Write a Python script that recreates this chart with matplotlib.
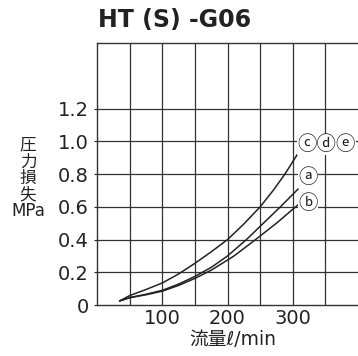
import matplotlib
matplotlib.use("Agg")
import matplotlib.pyplot as plt

plt.rcParams['font.family'] = ['DejaVu Sans', 'Noto Sans CJK JP']

# flow (l/min) vs pressure loss (MPa)
flow_cde = [35, 50, 75, 100, 125, 150, 175, 200, 225, 250, 270, 288, 307]
loss_cde = [0.026, 0.058, 0.095, 0.135, 0.19, 0.255, 0.325, 0.4, 0.495, 0.6, 0.7, 0.8, 0.92]

flow_a = [35, 50, 75, 100, 125, 150, 175, 200, 229, 255, 281, 308]
loss_a = [0.026, 0.046, 0.066, 0.09, 0.128, 0.175, 0.23, 0.3, 0.4, 0.5, 0.6, 0.708]

flow_b = [35, 50, 75, 100, 125, 150, 175, 210, 243, 275, 308]
loss_b = [0.026, 0.045, 0.063, 0.085, 0.12, 0.163, 0.213, 0.3, 0.4, 0.5, 0.612]

series = [(flow_cde, loss_cde), (flow_a, loss_a), (flow_b, loss_b)]
labels = ["ⓒⓓⓔ", "ⓐ", "ⓑ"]
label_x = [352, 323, 323]
label_y = [0.98, 0.78, 0.62]

x_ticks = [100, 200, 300]
y_ticks = [0, 0.2, 0.4, 0.6, 0.8, 1.0, 1.2]
y_ticklabels = ["0", "0.2", "0.4", "0.6", "0.8", "1.0", "1.2"]

fig = plt.figure(figsize=(3.58, 3.56), dpi=100)
ax = fig.add_axes([0.271, 0.143, 0.729, 0.736])

grid_c = "#333333"
for gx in range(50, 400, 50):
    ax.axvline(gx, color=grid_c, lw=0.9, zorder=1)
for gy in [0.2, 0.4, 0.6, 0.8, 1.0, 1.2]:
    ax.axhline(gy, color=grid_c, lw=0.9, zorder=1)

for (fx, fy) in series:
    ax.plot(fx, fy, color="#222222", lw=1.1, zorder=3)

for lab, lx, ly in zip(labels, label_x, label_y):
    ax.text(lx, ly, lab, fontsize=14, ha="center", va="center", zorder=4,
            family=['Noto Sans CJK JP', 'DejaVu Sans'], color="#222222",
            bbox=dict(facecolor="white", edgecolor="none", pad=0.0))

ax.set_xlim(0, 400)
ax.set_ylim(0, 1.6)
ax.set_xticks(x_ticks)
ax.set_xticklabels([str(t) for t in x_ticks])
ax.set_yticks(y_ticks)
ax.set_yticklabels(y_ticklabels)
ax.tick_params(axis="both", labelsize=14, colors="#222222", length=0, pad=3)
ax.tick_params(axis="y", length=2, direction="out", pad=4)

ax.spines["right"].set_visible(False)
for s in ["left", "bottom", "top"]:
    ax.spines[s].set_color(grid_c)
    ax.spines[s].set_linewidth(1.0)

fig.text(0.489, 0.943, "HT (S) -G06", fontsize=17, fontweight="bold",
         ha="center", va="center", color="#222222")
fig.text(0.078, 0.5, "圧\n力\n損\n失\nMPa", fontsize=12, ha="center",
         va="center", linespacing=0.9, color="#222222")
fig.text(0.651, 0.045, "流量ℓ/min", fontsize=13.5, ha="center", va="center",
         color="#222222")

fig.savefig("out.png", dpi=100)
